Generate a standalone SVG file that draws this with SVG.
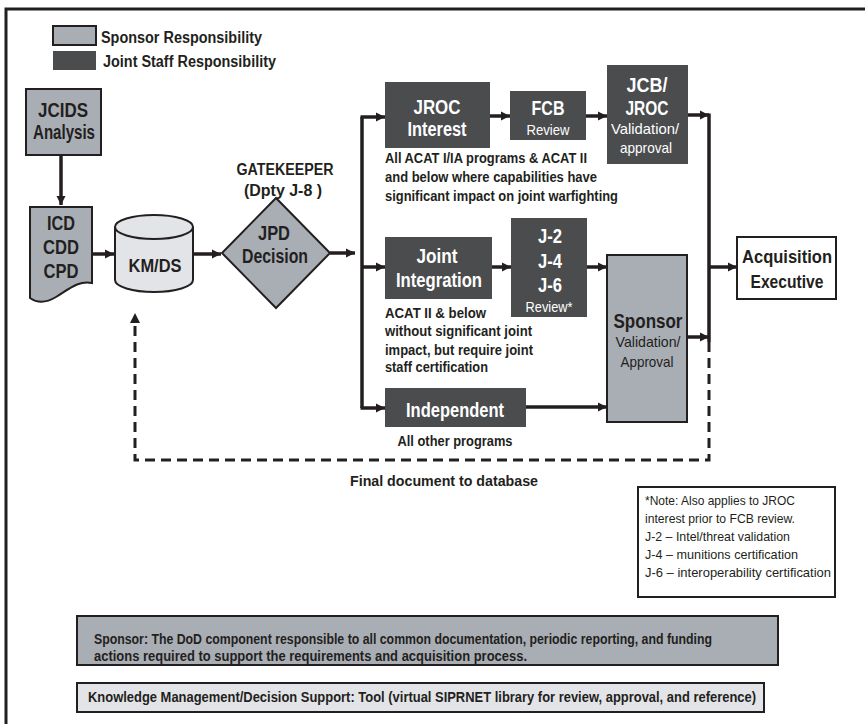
<svg xmlns="http://www.w3.org/2000/svg" width="865" height="724" viewBox="0 0 865 724">
<style>
.t{font-family:"Liberation Sans",Arial,sans-serif;fill:#231f20}
.b{font-weight:bold}
.w{fill:#ffffff}
.c{text-anchor:middle}
.dark{fill:#4b4c4e}
.gray{fill:#a9aeb5;stroke:#231f20;stroke-width:2}
.light{fill:#e3e4e8;stroke:#231f20;stroke-width:2}
.ln{fill:none;stroke:#231f20;stroke-width:3.5}
.ar{fill:none;stroke:#231f20;stroke-width:3.5;marker-end:url(#ah)}
.dash{fill:none;stroke:#231f20;stroke-width:3;stroke-dasharray:10 6}
</style>
<defs>
<marker id="ah" markerUnits="userSpaceOnUse" markerWidth="10" markerHeight="10" refX="9" refY="5" orient="auto">
<path d="M0,0.5 L9,5 L0,9.5 z" fill="#231f20"/>
</marker>
</defs>
<rect width="865" height="724" fill="#fff"/>
<path d="M6,724 V9 H865" fill="none" stroke="#231f20" stroke-width="3"/>

<g id="legend">
<rect x="53" y="26" width="43" height="19" class="gray"/>
<rect x="53" y="51" width="43" height="19" class="dark"/>
<text x="101" y="43" class="t b" font-size="16" textLength="161" lengthAdjust="spacingAndGlyphs">Sponsor Responsibility</text>
<text x="103" y="67" class="t b" font-size="16" textLength="173" lengthAdjust="spacingAndGlyphs">Joint Staff Responsibility</text>
</g>

<g id="connectors">
<path class="ar" d="M61,156 V205"/>
<path class="ar" d="M92,254 H114"/>
<path class="ar" d="M193,254 H221"/>
<path class="ar" d="M330,253 H355"/>
<path class="ln" d="M362,117 V408"/>
<path class="ar" d="M360.5,117 H385"/>
<path class="ar" d="M362,267 H385"/>
<path class="ar" d="M360.5,408 H385"/>
<path class="ar" d="M490,116 H510"/>
<path class="ar" d="M586,116 H607"/>
<path class="ar" d="M688,115 H709"/>
<path class="ln" d="M709,113.5 V342"/>
<path class="ar" d="M709,267 H737"/>
<path class="ar" d="M687,337 H709"/>
<path class="ar" d="M492,267 H511"/>
<path class="ar" d="M587,267 H607"/>
<path class="ar" d="M526,407 H607"/>
<path class="dash" d="M709,342 V460 H135 V322"/>
<path d="M130,323 L135,313 L140,323 z" fill="#231f20"/>
</g>

<g id="jcids">
<rect x="26" y="89" width="75" height="66" class="gray"/>
<text x="63" y="117" class="t b c" font-size="20" textLength="50" lengthAdjust="spacingAndGlyphs">JCIDS</text>
<text x="64" y="139" class="t b c" font-size="20" textLength="62" lengthAdjust="spacingAndGlyphs">Analysis</text>
</g>

<g id="icd">
<path d="M30,207 H92 V283 C78,280 68,290 56,297 C46,303 37,303 30,298 Z" class="gray"/>
<text x="61" y="230" class="t b c" font-size="20" textLength="28" lengthAdjust="spacingAndGlyphs">ICD</text>
<text x="61" y="254" class="t b c" font-size="20" textLength="36" lengthAdjust="spacingAndGlyphs">CDD</text>
<text x="61" y="278" class="t b c" font-size="20" textLength="35" lengthAdjust="spacingAndGlyphs">CPD</text>
</g>

<g id="kmds">
<path d="M115,227 V280 A39,12 0 0 0 193,280 V227 A39,12 0 0 0 115,227 Z" class="light"/>
<path d="M115,227 A39,12 0 0 0 193,227" fill="none" stroke="#231f20" stroke-width="2"/>
<text x="155" y="272" class="t b c" font-size="19" textLength="53" lengthAdjust="spacingAndGlyphs">KM/DS</text>
</g>

<g id="jpd">
<path d="M276,198 L330,253 L276,308 L222,253 Z" class="gray"/>
<text x="274" y="240" class="t b c" font-size="20" textLength="32" lengthAdjust="spacingAndGlyphs">JPD</text>
<text x="275" y="263" class="t b c" font-size="20" textLength="66" lengthAdjust="spacingAndGlyphs">Decision</text>
<text x="285" y="175" class="t b c" font-size="16" textLength="97" lengthAdjust="spacingAndGlyphs">GATEKEEPER</text>
<text x="283" y="196" class="t b c" font-size="16" textLength="78" lengthAdjust="spacingAndGlyphs">(Dpty J-8 )</text>
</g>

<g id="jroc">
<rect x="385" y="82" width="105" height="66" class="dark"/>
<text x="437" y="114" class="t b c w" font-size="20" textLength="47" lengthAdjust="spacingAndGlyphs">JROC</text>
<text x="437" y="136" class="t b c w" font-size="20" textLength="59" lengthAdjust="spacingAndGlyphs">Interest</text>
<text x="385" y="163" class="t b" font-size="14" textLength="202" lengthAdjust="spacingAndGlyphs">All ACAT I/IA programs &amp; ACAT II</text>
<text x="385" y="182" class="t b" font-size="14" textLength="212" lengthAdjust="spacingAndGlyphs">and below where capabilities have</text>
<text x="385" y="201" class="t b" font-size="14" textLength="233" lengthAdjust="spacingAndGlyphs">significant impact on joint warfighting</text>
</g>

<g id="fcb">
<rect x="510" y="91" width="76" height="49" class="dark"/>
<text x="548" y="115" class="t b c w" font-size="20" textLength="33" lengthAdjust="spacingAndGlyphs">FCB</text>
<text x="548" y="135" class="t c w" font-size="15" textLength="43" lengthAdjust="spacingAndGlyphs">Review</text>
</g>

<g id="jcb">
<rect x="607" y="65" width="81" height="99" class="dark"/>
<text x="647" y="92" class="t b c w" font-size="20" textLength="41" lengthAdjust="spacingAndGlyphs">JCB/</text>
<text x="647" y="115" class="t b c w" font-size="20" textLength="43" lengthAdjust="spacingAndGlyphs">JROC</text>
<text x="645" y="134" class="t c w" font-size="15" textLength="68" lengthAdjust="spacingAndGlyphs">Validation/</text>
<text x="646" y="153" class="t c w" font-size="15" textLength="52" lengthAdjust="spacingAndGlyphs">approval</text>
</g>

<g id="joint-integration">
<rect x="385" y="237" width="107" height="62" class="dark"/>
<text x="437" y="263" class="t b c w" font-size="20" textLength="41" lengthAdjust="spacingAndGlyphs">Joint</text>
<text x="439" y="287" class="t b c w" font-size="20" textLength="86" lengthAdjust="spacingAndGlyphs">Integration</text>
<text x="385" y="318" class="t b" font-size="14" textLength="101" lengthAdjust="spacingAndGlyphs">ACAT II &amp; below</text>
<text x="385" y="336" class="t b" font-size="14" textLength="147" lengthAdjust="spacingAndGlyphs">without significant joint</text>
<text x="385" y="355" class="t b" font-size="14" textLength="148" lengthAdjust="spacingAndGlyphs">impact, but require joint</text>
<text x="385" y="372" class="t b" font-size="14" textLength="103" lengthAdjust="spacingAndGlyphs">staff certification</text>
</g>

<g id="j-review">
<rect x="511" y="218" width="76" height="99" class="dark"/>
<text x="550" y="243" class="t b c w" font-size="20" textLength="24" lengthAdjust="spacingAndGlyphs">J-2</text>
<text x="550" y="268" class="t b c w" font-size="20" textLength="24" lengthAdjust="spacingAndGlyphs">J-4</text>
<text x="550" y="292" class="t b c w" font-size="20" textLength="24" lengthAdjust="spacingAndGlyphs">J-6</text>
<text x="549" y="312" class="t c w" font-size="15" textLength="47" lengthAdjust="spacingAndGlyphs">Review*</text>
</g>

<g id="sponsor">
<rect x="607" y="255" width="80" height="167" class="gray"/>
<text x="648" y="328" class="t b c" font-size="20" textLength="69" lengthAdjust="spacingAndGlyphs">Sponsor</text>
<text x="648" y="347" class="t c" font-size="15" textLength="65" lengthAdjust="spacingAndGlyphs">Validation/</text>
<text x="647" y="367" class="t c" font-size="15" textLength="53" lengthAdjust="spacingAndGlyphs">Approval</text>
</g>

<g id="independent">
<rect x="385" y="388" width="141" height="39" class="dark"/>
<text x="455" y="417" class="t b c w" font-size="20" textLength="98" lengthAdjust="spacingAndGlyphs">Independent</text>
<text x="455" y="446" class="t b c" font-size="14" textLength="115" lengthAdjust="spacingAndGlyphs">All other programs</text>
</g>

<g id="acquisition">
<rect x="737" y="237" width="99" height="62" fill="#fff" stroke="#231f20" stroke-width="2"/>
<text x="787" y="263" class="t b c" font-size="19" textLength="90" lengthAdjust="spacingAndGlyphs">Acquisition</text>
<text x="787" y="288" class="t b c" font-size="19" textLength="73" lengthAdjust="spacingAndGlyphs">Executive</text>
</g>

<g id="final-label">
<text x="444" y="486" class="t b c" font-size="14" textLength="188" lengthAdjust="spacingAndGlyphs">Final document to database</text>
</g>

<g id="note">
<rect x="638" y="487" width="197" height="110" fill="#fff" stroke="#231f20" stroke-width="2"/>
<text x="645" y="505" class="t" font-size="13" textLength="150" lengthAdjust="spacingAndGlyphs">*Note: Also applies to JROC</text>
<text x="645" y="523" class="t" font-size="13" textLength="150" lengthAdjust="spacingAndGlyphs">interest prior to FCB review.</text>
<text x="645" y="541" class="t" font-size="13" textLength="145" lengthAdjust="spacingAndGlyphs">J-2 – Intel/threat validation</text>
<text x="645" y="559" class="t" font-size="13" textLength="153" lengthAdjust="spacingAndGlyphs">J-4 – munitions certification</text>
<text x="645" y="577" class="t" font-size="13" textLength="186" lengthAdjust="spacingAndGlyphs">J-6 – interoperability certification</text>
</g>

<g id="sponsor-def">
<rect x="77" y="616" width="701" height="49" class="gray"/>
<text x="94" y="644" class="t b" font-size="14" textLength="618" lengthAdjust="spacingAndGlyphs">Sponsor: The DoD component responsible to all common documentation, periodic reporting, and funding</text>
<text x="94" y="661" class="t b" font-size="14" textLength="433" lengthAdjust="spacingAndGlyphs">actions required to support the requirements and acquisition process.</text>
</g>

<g id="kmds-def">
<rect x="77" y="683" width="687" height="29" class="light"/>
<text x="88" y="702" class="t b" font-size="14" textLength="668" lengthAdjust="spacingAndGlyphs">Knowledge Management/Decision Support: Tool (virtual SIPRNET library for review, approval, and reference)</text>
</g>
</svg>
